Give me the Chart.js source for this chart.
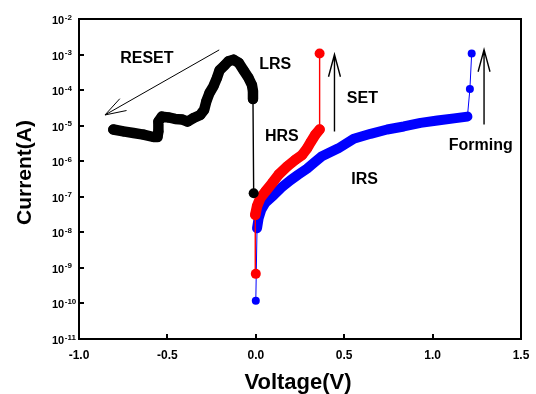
<!DOCTYPE html>
<html>
<head>
<meta charset="utf-8">
<title>I-V curve</title>
<script src="https://cdn.jsdelivr.net/npm/chart.js@4.4.1/dist/chart.umd.min.js"></script>
<style>
  html, body { margin: 0; padding: 0; background: #fff; }
</style>
</head>
<body>
<canvas id="chartIV" width="536" height="394"></canvas>
<script>
/* ────────────────────────────────────────────────────────────
   DATA
   ──────────────────────────────────────────────────────────── */
// RESET sweep (black): from 0 V towards -0.8 V
const resetV = [-0.012, -0.016, -0.016, -0.022, -0.041, -0.069, -0.097, -0.126, -0.154, -0.178, -0.205, -0.220, -0.239, -0.262, -0.280, -0.292, -0.314, -0.352, -0.386, -0.418, -0.456, -0.494, -0.531, -0.551, -0.551, -0.556, -0.579, -0.636, -0.692, -0.749, -0.806];
const resetI = [1.25e-7, 5.6e-5, 9.3e-5, 1.4e-4, 2.2e-4, 3.6e-4, 5.9e-4, 7.2e-4, 6.5e-4, 4.9e-4, 3.6e-4, 2.2e-4, 1.3e-4, 8.3e-5, 4.8e-5, 2.8e-5, 2.0e-5, 1.65e-5, 1.3e-5, 1.5e-5, 1.55e-5, 1.7e-5, 1.8e-5, 1.3e-5, 6.9e-6, 4.8e-6, 4.8e-6, 5.6e-6, 6.2e-6, 6.9e-6, 7.8e-6];

// SET sweep (red): HRS -> LRS
const setV = [0.0, -0.003, 0.007, 0.025, 0.054, 0.092, 0.129, 0.177, 0.224, 0.262, 0.290, 0.313, 0.337, 0.361, 0.361];
const setI = [6.8e-10, 3.1e-8, 5.4e-8, 9.1e-8, 1.4e-7, 2.4e-7, 4.2e-7, 7.1e-7, 1.1e-6, 1.5e-6, 2.3e-6, 3.6e-6, 5.6e-6, 7.8e-6, 1.07e-3];

// Forming sweep (blue): IRS -> LRS
const formV = [0.0, 0.007, 0.016, 0.031, 0.054, 0.101, 0.144, 0.195, 0.240, 0.290, 0.330, 0.371, 0.467, 0.554, 0.649, 0.743, 0.837, 0.932, 1.027, 1.121, 1.197, 1.211, 1.221];
const formI = [1.2e-10, 1.3e-8, 2.5e-8, 4.3e-8, 6.8e-8, 1.1e-7, 1.8e-7, 2.9e-7, 4.2e-7, 6.2e-7, 9.1e-7, 1.35e-6, 2.3e-6, 4.3e-6, 5.9e-6, 7.8e-6, 9.5e-6, 1.2e-5, 1.4e-5, 1.6e-5, 1.8e-5, 1.07e-4, 1.07e-3];

// axis ticks
const xTicks = [-1.0, -0.5, 0.0, 0.5, 1.0, 1.5];
const yExponents = [-11, -10, -9, -8, -7, -6, -5, -4, -3, -2];

// annotations (position in data units)
const notes = [
  { text: 'RESET',   v: -0.616, i: 7.6e-4 },
  { text: 'LRS',     v: 0.110,  i: 5.2e-4 },
  { text: 'SET',     v: 0.603,  i: 5.8e-5 },
  { text: 'HRS',     v: 0.147,  i: 4.9e-6 },
  { text: 'IRS',     v: 0.615,  i: 3.0e-7 },
  { text: 'Forming', v: 1.272,  i: 2.75e-6 },
];
const arrows = [
  { from: [-0.207, 1.35e-3], to: [-0.853, 2.0e-5], head: 22, spread: 18, width: 1 },
  { from: [0.445, 6.9e-6],   to: [0.445, 1.0e-3],  head: 23, spread: 15, width: 1.4 },
  { from: [1.291, 1.07e-5],  to: [1.291, 1.38e-3], head: 23, spread: 15, width: 1.4 },
];

/* ────────────────────────────────────────────────────────────
   HELPERS
   ──────────────────────────────────────────────────────────── */
const FONT = '"Liberation Sans", Arial, sans-serif';

function toPoints(xs, ys) {
  return xs.map((x, k) => ({ x: x, y: ys[k] }));
}

// dense runs of points are drawn as a thick band, jumps as a thin line
function segWidth(thick, thin) {
  return ctx => {
    const d = Math.hypot(ctx.p1.x - ctx.p0.x, ctx.p1.y - ctx.p0.y);
    return d > 22 ? thin : thick;
  };
}

function serie(data, color, radius, thick, thin, order) {
  return {
    data: data,
    showLine: true,
    borderColor: color,
    backgroundColor: color,
    pointBackgroundColor: color,
    pointBorderWidth: 0,
    pointRadius: radius,
    pointHoverRadius: radius,
    borderCapStyle: 'round',
    borderJoinStyle: 'round',
    borderWidth: thin,
    segment: { borderWidth: segWidth(thick, thin) },
    order: order,
  };
}

/* ────────────────────────────────────────────────────────────
   FRAME, TICKS, TITLES, ANNOTATIONS
   ──────────────────────────────────────────────────────────── */
const decorPlugin = {
  id: 'decor',
  afterDraw(chart) {
    const ctx = chart.ctx;
    const a = chart.chartArea;
    const sx = chart.scales.x;
    const sy = chart.scales.y;
    ctx.save();
    ctx.strokeStyle = '#000';
    ctx.fillStyle = '#000';

    // box
    ctx.lineWidth = 2;
    ctx.strokeRect(a.left, a.top, a.right - a.left, a.bottom - a.top);

    // inward ticks
    ctx.beginPath();
    xTicks.forEach(v => {
      const px = Math.round(sx.getPixelForValue(v));
      ctx.moveTo(px, a.bottom);
      ctx.lineTo(px, a.bottom - 5);
    });
    yExponents.forEach(e => {
      const py = Math.round(sy.getPixelForValue(Math.pow(10, e)));
      ctx.moveTo(a.left, py);
      ctx.lineTo(a.left + 5, py);
    });
    ctx.stroke();

    // y tick labels 10^n
    ctx.textAlign = 'left';
    ctx.textBaseline = 'alphabetic';
    yExponents.forEach(e => {
      const py = sy.getPixelForValue(Math.pow(10, e));
      ctx.font = 'bold 11px ' + FONT;
      ctx.fillText('10', 52, py + 5);
      const w = ctx.measureText('10').width;
      ctx.font = 'bold 8px ' + FONT;
      ctx.fillText(String(e), 52 + w + 0.5, py + 0.5);
    });

    // axis titles
    ctx.font = 'bold 22px ' + FONT;
    ctx.textAlign = 'center';
    ctx.fillText('Voltage(V)', 298, 389);
    ctx.save();
    ctx.translate(31, 172.5);
    ctx.rotate(-Math.PI / 2);
    ctx.font = 'bold 21px ' + FONT;
    ctx.fillText('Current(A)', 0, 0);
    ctx.restore();

    // labels
    ctx.font = 'bold 16px ' + FONT;
    ctx.textBaseline = 'middle';
    notes.forEach(n => {
      ctx.fillText(n.text, sx.getPixelForValue(n.v), sy.getPixelForValue(n.i));
    });

    // arrows
    arrows.forEach(ar => {
      const x0 = sx.getPixelForValue(ar.from[0]), y0 = sy.getPixelForValue(ar.from[1]);
      const x1 = sx.getPixelForValue(ar.to[0]),   y1 = sy.getPixelForValue(ar.to[1]);
      const ang = Math.atan2(y0 - y1, x0 - x1);
      const s = ar.spread * Math.PI / 180;
      ctx.lineWidth = ar.width;
      ctx.beginPath();
      ctx.moveTo(x0, y0);
      ctx.lineTo(x1, y1);
      ctx.moveTo(x1 + ar.head * Math.cos(ang + s), y1 + ar.head * Math.sin(ang + s));
      ctx.lineTo(x1, y1);
      ctx.lineTo(x1 + ar.head * Math.cos(ang - s), y1 + ar.head * Math.sin(ang - s));
      ctx.stroke();
    });

    ctx.restore();
  },
};

/* ────────────────────────────────────────────────────────────
   CHART
   ──────────────────────────────────────────────────────────── */
new Chart(document.getElementById('chartIV').getContext('2d'), {
  type: 'scatter',
  data: {
    datasets: [
      serie(toPoints(resetV, resetI), '#000000', 5, 10.5, 1.4, 1),
      serie(toPoints(setV, setI), '#ff0000', 5, 10.5, 1.4, 2),
      serie(toPoints(formV, formI), '#0000ff', 4, 10, 1, 3),
    ],
  },
  options: {
    responsive: false,
    animation: false,
    events: [],
    layout: { padding: { top: 19, right: 15, left: 0, bottom: 0 } },
    plugins: {
      legend: { display: false },
      tooltip: { enabled: false },
    },
    scales: {
      x: {
        type: 'linear',
        min: -1.0,
        max: 1.5,
        grid: { display: false },
        border: { display: false },
        afterBuildTicks: s => { s.ticks = xTicks.map(v => ({ value: v })); },
        afterFit: s => { s.height = 55; },
        ticks: {
          color: '#000',
          padding: 1,
          autoSkip: false,
          maxRotation: 0,
          font: { family: FONT, size: 12, weight: 'bold' },
          callback: v => v.toFixed(1),
        },
      },
      y: {
        type: 'logarithmic',
        min: 1e-11,
        max: 1e-2,
        grid: { display: false },
        border: { display: false },
        ticks: { display: false },
        afterFit: s => { s.width = 79; },
      },
    },
  },
  plugins: [decorPlugin],
});
</script>
</body>
</html>
